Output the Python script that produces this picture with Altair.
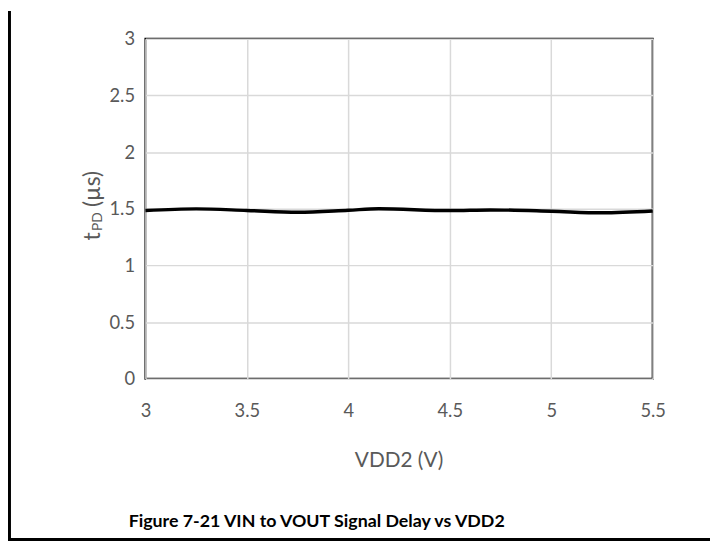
import altair as alt
import pandas as pd

# ---- data ----
vdd2 = [3.0, 3.25, 3.5, 3.75, 4.0, 4.15, 4.5, 4.7, 5.0, 5.25, 5.5]
tpd = [1.484, 1.499, 1.485, 1.469, 1.487, 1.500, 1.484, 1.490, 1.478, 1.464, 1.480]
x_ticks = [3, 3.5, 4, 4.5, 5, 5.5]
y_ticks = [0, 0.5, 1, 1.5, 2, 2.5, 3]
x_title = "VDD2 (V)"
y_title_main = "t"
y_title_sub = "PD"
y_title_unit = "(µs)"
caption = "Figure 7-21 VIN to VOUT Signal Delay vs VDD2"

df = pd.DataFrame({"vdd2": vdd2, "tpd": tpd})
one = pd.DataFrame({"k": [0]})

W, H = 513, 344
FONT = "Lato"
GRAY = "#595959"

axis_common = dict(
    title=None, grid=True, ticks=False, tickSize=0, domain=False,
    labelFontSize=18.5, labelColor=GRAY, labelFont=FONT,
    gridColor="#d9d9d9", gridWidth=1.5, format="~g",
)

line = alt.Chart(df).mark_line(color="black", strokeWidth=3.5, interpolate="monotone").encode(
    x=alt.X("vdd2:Q", scale=alt.Scale(domain=[3, 5.5], nice=False, zero=False),
            axis=alt.Axis(values=x_ticks, labelFlush=False, labelPadding=23, **axis_common)),
    y=alt.Y("tpd:Q", scale=alt.Scale(domain=[0, 3], nice=False),
            axis=alt.Axis(values=y_ticks, labelPadding=11, **axis_common)),
)

def txt(s, x, y, size, color=GRAY, angle=0, weight="normal", align="center"):
    return alt.Chart(one).mark_text(
        text=s, fontSize=size, font=FONT, color=color, angle=angle,
        fontWeight=weight, align=align, baseline="middle",
    ).encode(x=alt.value(x), y=alt.value(y))

xt = txt(x_title, W / 2, 427, 21)
yt1 = txt(y_title_main, -53, 200, 23, angle=270)
yt2 = txt(y_title_sub, -48, 185, 14, angle=270)
yt3 = txt(y_title_unit, -53, 152, 23, angle=270)
cap = txt(caption, -17, 489, 18, color="black", weight="bold", align="left")

frame_bottom = alt.Chart(one).mark_rule(color="black", strokeWidth=3).encode(
    x=alt.value(-139), x2=alt.value(571), y=alt.value(506.5))
frame_left = alt.Chart(one).mark_rule(color="black", strokeWidth=3).encode(
    x=alt.value(-137.5), y=alt.value(-28), y2=alt.value(508))

chart = alt.layer(line, xt, yt1, yt2, yt3, cap, frame_bottom, frame_left).properties(
    width=W, height=H,
    autosize=alt.AutoSizeParams(type="none"),
    padding={"left": 139, "top": 28, "right": 58, "bottom": 164},
).configure_view(stroke="black", strokeWidth=2)

chart.save("out.html", embed_options={"renderer": "svg", "actions": False})
